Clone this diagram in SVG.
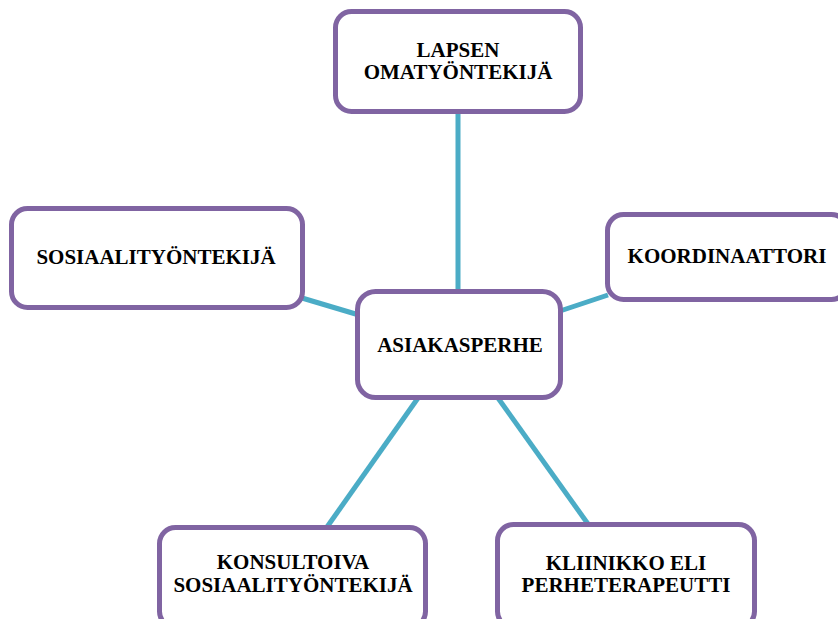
<svg xmlns="http://www.w3.org/2000/svg" width="838" height="619" viewBox="0 0 838 619">
<style>
.box{fill:#fff;stroke:#8064A2;stroke-width:5}
.lbl{font-family:"Liberation Serif","Times New Roman",serif;font-weight:bold;font-size:21px;fill:#000;text-anchor:middle}
.con{stroke:#4BACC6;stroke-width:5;fill:none}
</style>
<rect width="838" height="619" fill="#fff"/>
<g id="connectors">
<line class="con" x1="458" y1="113" x2="458" y2="292"/>
<line class="con" x1="302" y1="298" x2="359" y2="315"/>
<line class="con" x1="560" y1="311" x2="608" y2="295"/>
<line class="con" x1="418" y1="398" x2="327" y2="527"/>
<line class="con" x1="498" y1="398" x2="588" y2="524"/>
</g>
<g id="lapsen">
<rect class="box" x="335.5" y="11.5" width="245" height="100" rx="16"/>
<text class="lbl" x="458" y="57">LAPSEN</text>
<text class="lbl" x="458" y="79">OMATYÖNTEKIJÄ</text>
</g>
<g id="sosiaali">
<rect class="box" x="11.5" y="208.5" width="291" height="99" rx="16"/>
<text class="lbl" x="156" y="264">SOSIAALITYÖNTEKIJÄ</text>
</g>
<g id="koordinaattori">
<rect class="box" x="607.5" y="214.5" width="240" height="85" rx="16"/>
<text class="lbl" x="727" y="263">KOORDINAATTORI</text>
</g>
<g id="asiakasperhe">
<rect class="box" x="357.5" y="291.5" width="203" height="106" rx="18"/>
<text class="lbl" x="460" y="352">ASIAKASPERHE</text>
</g>
<g id="konsultoiva">
<rect class="box" x="159.5" y="527.5" width="266" height="100" rx="16"/>
<text class="lbl" x="293" y="569">KONSULTOIVA</text>
<text class="lbl" x="293" y="592">SOSIAALITYÖNTEKIJÄ</text>
</g>
<g id="kliinikko">
<rect class="box" x="497.5" y="524.5" width="257" height="103" rx="16"/>
<text class="lbl" x="626" y="570">KLIINIKKO ELI</text>
<text class="lbl" x="626" y="592">PERHETERAPEUTTI</text>
</g>
</svg>
